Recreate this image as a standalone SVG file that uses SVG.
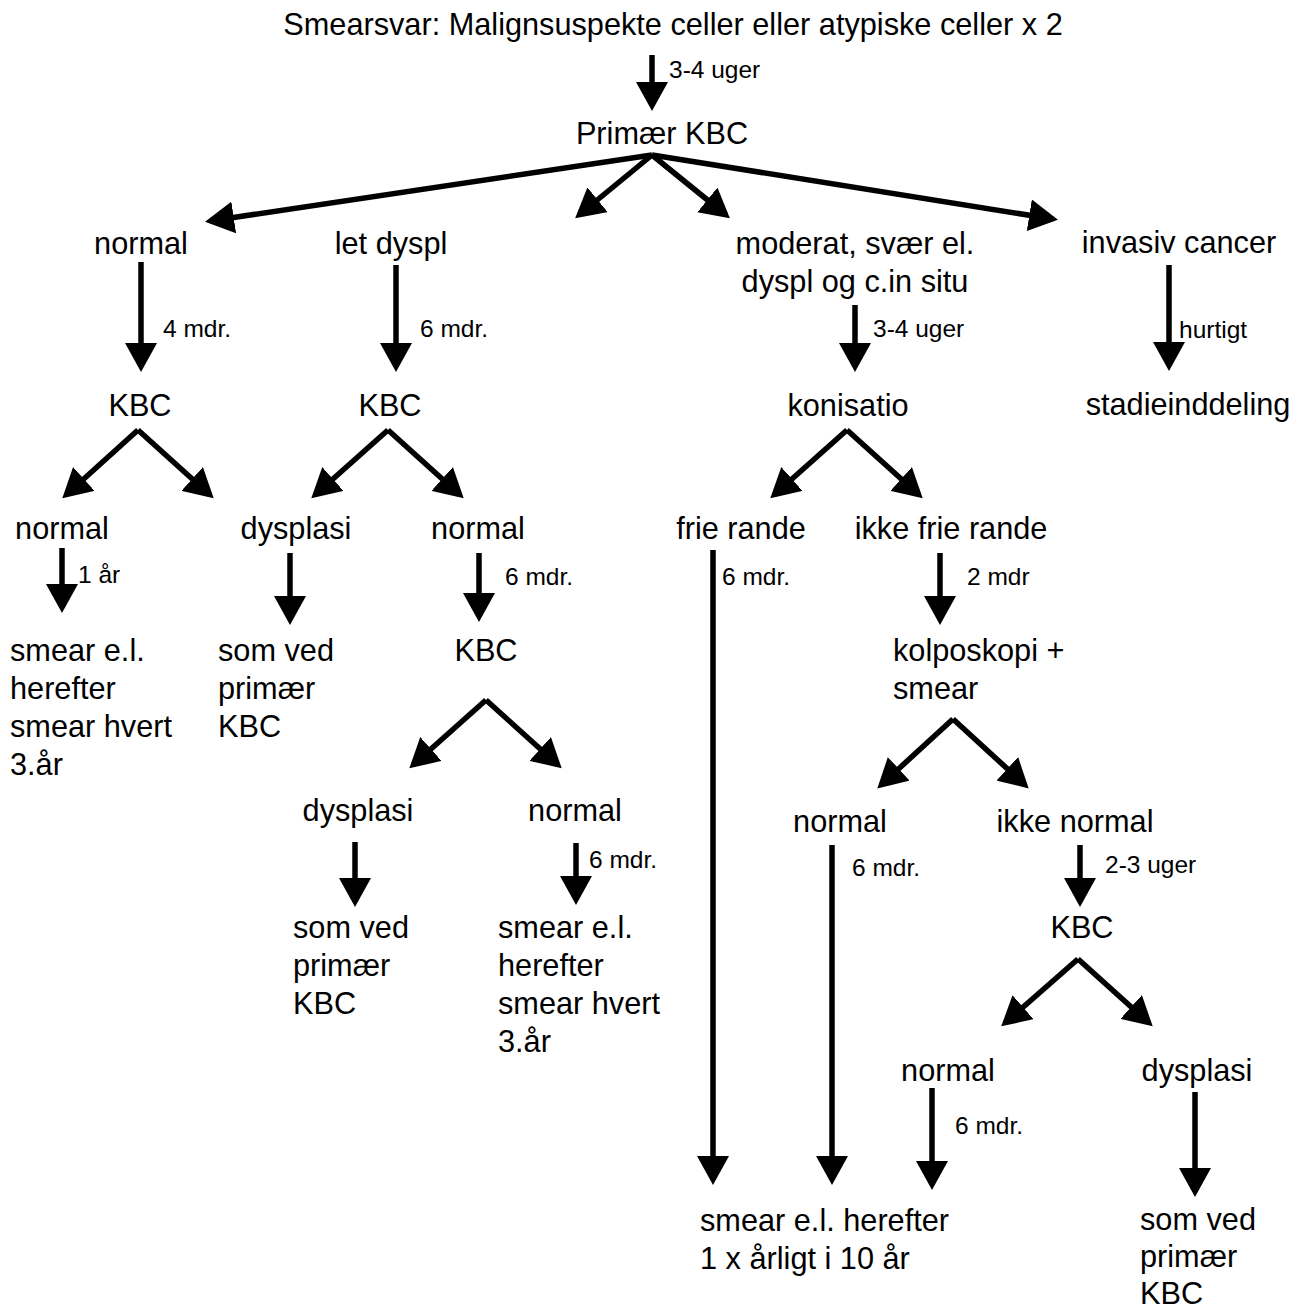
<svg xmlns="http://www.w3.org/2000/svg" width="1307" height="1311" viewBox="0 0 1307 1311">
<style>
text{font-family:"Liberation Sans",Arial,sans-serif;fill:#000}
.t{font-size:30.7px}
.s{font-size:24.5px}
.c{text-anchor:middle}
.e line{stroke:#000;stroke-width:5.5;marker-end:url(#ah)}
</style>
<defs>
<marker id="ah" markerUnits="userSpaceOnUse" viewBox="0 0 29 32" markerWidth="29" markerHeight="32" refX="24" refY="16" orient="auto"><path d="M0,0 L29,16 L0,32 Z" fill="#000"/></marker>
</defs>
<rect width="1307" height="1311" fill="#fff"/>
<g id="edges" class="e">
<line x1="652" y1="55" x2="652" y2="106"/>
<line x1="652" y1="155" x2="210" y2="221"/>
<line x1="652" y1="155" x2="579" y2="215"/>
<line x1="652" y1="155" x2="726" y2="215"/>
<line x1="652" y1="155" x2="1053" y2="219"/>
<line x1="141" y1="262" x2="141" y2="367"/>
<line x1="396" y1="265" x2="396" y2="367"/>
<line x1="855" y1="305" x2="855" y2="367"/>
<line x1="1169" y1="265" x2="1169" y2="366"/>
<line x1="138" y1="430" x2="66" y2="495"/>
<line x1="138" y1="430" x2="210" y2="495"/>
<line x1="388" y1="430" x2="315" y2="495"/>
<line x1="388" y1="430" x2="460" y2="495"/>
<line x1="847" y1="430" x2="774" y2="495"/>
<line x1="847" y1="430" x2="919" y2="495"/>
<line x1="62" y1="548" x2="62" y2="608"/>
<line x1="290" y1="553" x2="290" y2="620"/>
<line x1="479" y1="553" x2="479" y2="617"/>
<line x1="713" y1="550" x2="713" y2="1180"/>
<line x1="940" y1="553" x2="940" y2="620"/>
<line x1="486" y1="700" x2="413" y2="765"/>
<line x1="486" y1="700" x2="558" y2="765"/>
<line x1="953" y1="719" x2="881" y2="785"/>
<line x1="953" y1="719" x2="1025" y2="785"/>
<line x1="355" y1="842" x2="355" y2="902"/>
<line x1="576" y1="843" x2="576" y2="900"/>
<line x1="832" y1="845" x2="832" y2="1180"/>
<line x1="1080" y1="845" x2="1080" y2="902"/>
<line x1="1078" y1="959" x2="1005" y2="1023"/>
<line x1="1078" y1="959" x2="1149" y2="1023"/>
<line x1="932" y1="1088" x2="932" y2="1185"/>
<line x1="1195" y1="1092" x2="1195" y2="1192"/>
</g>
<g id="edge-labels" class="s">
<text x="669" y="78">3-4 uger</text>
<text x="163" y="337">4 mdr.</text>
<text x="420" y="337">6 mdr.</text>
<text x="873" y="337">3-4 uger</text>
<text x="1179" y="338">hurtigt</text>
<text x="78" y="583">1 år</text>
<text x="505" y="585">6 mdr.</text>
<text x="722" y="585">6 mdr.</text>
<text x="967" y="585">2 mdr</text>
<text x="589" y="868">6 mdr.</text>
<text x="852" y="876">6 mdr.</text>
<text x="1105" y="873">2-3 uger</text>
<text x="955" y="1134">6 mdr.</text>
</g>
<g id="n-smearsvar"><text class="t c" x="673" y="35">Smearsvar: Malignsuspekte celler eller atypiske celler x 2</text></g>
<g id="n-primaer-kbc"><text class="t c" x="662" y="144">Primær KBC</text></g>
<g id="n-normal-1"><text class="t c" x="141" y="254">normal</text></g>
<g id="n-let-dyspl"><text class="t c" x="391" y="254">let dyspl</text></g>
<g id="n-moderat"><text class="t c" x="855" y="254">moderat, svær el.</text><text class="t c" x="855" y="292">dyspl og c.in situ</text></g>
<g id="n-invasiv"><text class="t c" x="1179" y="253">invasiv cancer</text></g>
<g id="n-kbc-a"><text class="t c" x="140" y="416">KBC</text></g>
<g id="n-kbc-b"><text class="t c" x="390" y="416">KBC</text></g>
<g id="n-konisatio"><text class="t c" x="848" y="416">konisatio</text></g>
<g id="n-stadie"><text class="t c" x="1188" y="415">stadieinddeling</text></g>
<g id="n-normal-a"><text class="t c" x="62" y="539">normal</text></g>
<g id="n-dysplasi-b"><text class="t c" x="296" y="539">dysplasi</text></g>
<g id="n-normal-b"><text class="t c" x="478" y="539">normal</text></g>
<g id="n-frie"><text class="t c" x="741" y="539">frie rande</text></g>
<g id="n-ikke-frie"><text class="t c" x="951" y="539">ikke frie rande</text></g>
<g id="n-smear-a" class="t"><text x="10" y="661">smear e.l.</text><text x="10" y="699">herefter</text><text x="10" y="737">smear hvert</text><text x="10" y="775">3.år</text></g>
<g id="n-somved-a" class="t"><text x="218" y="661">som ved</text><text x="218" y="699">primær</text><text x="218" y="737">KBC</text></g>
<g id="n-kbc-c"><text class="t c" x="486" y="661">KBC</text></g>
<g id="n-kolposkopi" class="t"><text x="893" y="661">kolposkopi +</text><text x="893" y="699">smear</text></g>
<g id="n-dysplasi-c"><text class="t c" x="358" y="821">dysplasi</text></g>
<g id="n-normal-c"><text class="t c" x="575" y="821">normal</text></g>
<g id="n-normal-d"><text class="t c" x="840" y="832">normal</text></g>
<g id="n-ikke-normal"><text class="t c" x="1075" y="832">ikke normal</text></g>
<g id="n-somved-c" class="t"><text x="293" y="938">som ved</text><text x="293" y="976">primær</text><text x="293" y="1014">KBC</text></g>
<g id="n-smear-c" class="t"><text x="498" y="938">smear e.l.</text><text x="498" y="976">herefter</text><text x="498" y="1014">smear hvert</text><text x="498" y="1052">3.år</text></g>
<g id="n-kbc-d"><text class="t c" x="1082" y="938">KBC</text></g>
<g id="n-normal-e"><text class="t c" x="948" y="1081">normal</text></g>
<g id="n-dysplasi-e"><text class="t c" x="1197" y="1081">dysplasi</text></g>
<g id="n-smear-final" class="t"><text x="700" y="1231">smear e.l. herefter</text><text x="700" y="1269">1 x årligt i 10 år</text></g>
<g id="n-somved-e" class="t"><text x="1140" y="1230">som ved</text><text x="1140" y="1267">primær</text><text x="1140" y="1304">KBC</text></g>
</svg>
